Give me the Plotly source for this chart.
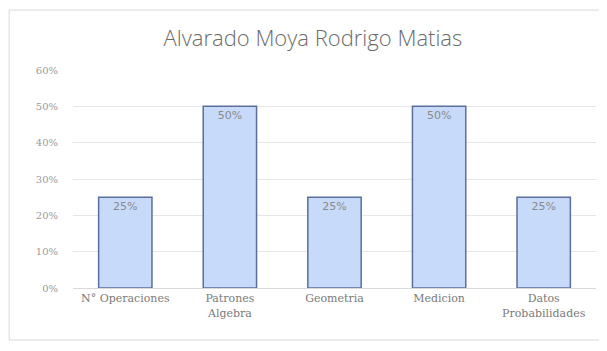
import plotly.graph_objects as go

categories = ["N° Operaciones", "Patrones<br>Algebra", "Geometria", "Medicion", "Datos<br>Probabilidades"]
values = [0.25, 0.50, 0.25, 0.50, 0.25]
value_labels = ["25%", "50%", "25%", "50%", "25%"]
y_ticks = [0, 0.1, 0.2, 0.3, 0.4, 0.5, 0.6]
y_tick_labels = ["0%", "10%", "20%", "30%", "40%", "50%", "60%"]
title_text = "Alvarado Moya Rodrigo Matias"

fig = go.Figure(go.Bar(
    x=categories, y=values, text=value_labels,
    textposition="inside", insidetextanchor="end",
    textfont=dict(family="DejaVu Sans", size=11, color="#8a8a8a"),
    marker=dict(color="#c7daf9", line=dict(color="#5a6f9c", width=1.5)),
    width=0.51,
))

fig.update_layout(
    width=599, height=343,
    margin=dict(l=65, r=11, t=62, b=63),
    paper_bgcolor="white", plot_bgcolor="white",
    title=dict(text=title_text, x=0.509, xanchor="center", y=0.913, yanchor="middle",
               font=dict(family="Open Sans", size=22, color="#6b6b6b", weight=300)),
    showlegend=False,
    bargap=0.49,
    shapes=[dict(type="rect", xref="paper", yref="paper",
                 x0=-0.122, x1=1.013, y0=-0.2385, y1=1.275,
                 line=dict(color="#d9d9d9", width=1), fillcolor="rgba(0,0,0,0)", layer="below")],
)
fig.update_xaxes(showline=True, linecolor="#d9d9d9", linewidth=1, ticks="",
                 tickfont=dict(family="DejaVu Serif", size=11, color="#7a7a7a"))
fig.update_yaxes(range=[0, 0.6], tickvals=y_ticks, ticktext=y_tick_labels,
                 showgrid=True, gridcolor="#e6e6e6", zeroline=False,
                 tickfont=dict(family="DejaVu Serif", size=10, color="#9a9a9a"),
                 ticklabelstandoff=14)
fig.write_html("out.html")
